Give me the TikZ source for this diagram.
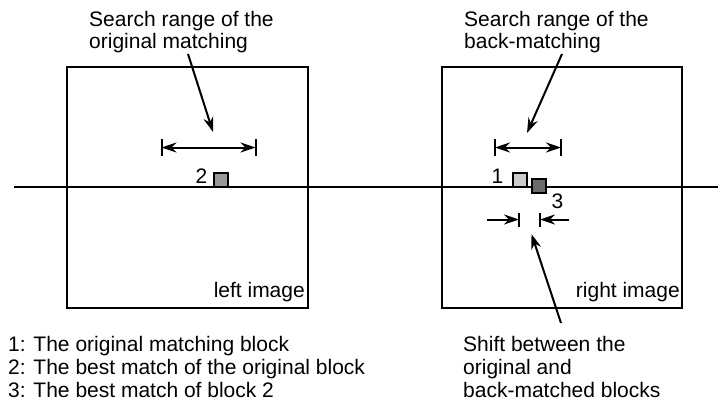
\documentclass[tikz,border=0pt]{standalone}
\usepackage{fontspec}
\setmainfont{Liberation Sans}
\usetikzlibrary{arrows.meta}
\begin{document}
\begin{tikzpicture}[x=1pt,y=-1pt,
  txt/.style={inner sep=0pt,font=\fontsize{21}{23}\selectfont},
  frame/.style={draw=black,line width=2pt},
  lnk/.style={line width=2pt,-{Stealth[length=15pt,width=10pt]}},
  bar/.style={line width=2pt},
  blk/.style={draw=black,line width=1.4pt,minimum size=14pt,inner sep=0pt}]
\useasboundingbox (0,0) rectangle (723,405);
% image frames
\draw[frame] (67,67) rectangle (307.5,307.5);
\draw[frame] (442,67) rectangle (682,307.5);
% epipolar line
\coordinate (la) at (14,187);
\coordinate (lb) at (718,187);
\draw[line width=2pt] (la) -- (lb);
% blocks
\node[blk,fill=black!40] (b2) at (221,180) {};
\node[blk,fill=black!20] (b1) at (520,180) {};
\node[blk,fill=black!58] (b3) at (539,186) {};
\node[txt,anchor=base east] (l2) at (207.5,183) {2};
\node[txt,anchor=base east] (l1) at (503.5,183) {1};
\node[txt,anchor=base west] (l3) at (551.5,208) {3};
% search range left
\coordinate (sl1) at (161.5,147.5);
\coordinate (sl2) at (255.5,147.5);
\draw[lnk,{Stealth[length=15pt,width=10pt]}-{Stealth[length=15pt,width=10pt]}] (sl1) -- (sl2);
\draw[bar] ([yshift=-8.5]sl1) -- ([yshift=8.5]sl1);
\draw[bar] ([yshift=-8.5]sl2) -- ([yshift=8.5]sl2);
% search range right
\coordinate (sr1) at (495,147.5);
\coordinate (sr2) at (561,147.5);
\draw[lnk,{Stealth[length=15pt,width=10pt]}-{Stealth[length=15pt,width=10pt]}] (sr1) -- (sr2);
\draw[bar] ([yshift=-8.5]sr1) -- ([yshift=8.5]sr1);
\draw[bar] ([yshift=-8.5]sr2) -- ([yshift=8.5]sr2);
% shift arrows
\coordinate (s1a) at (487,219.5);
\coordinate (s1b) at (519,219.5);
\coordinate (s2a) at (569,219.5);
\coordinate (s2b) at (540,219.5);
\draw[lnk] (s1a) -- (s1b);
\draw[lnk] (s2a) -- (s2b);
\draw[bar] ([yshift=-7]s1b) -- ([yshift=7]s1b);
\draw[bar] ([yshift=-7]s2b) -- ([yshift=7]s2b);
% texts
\node[txt,anchor=base west] (t1a) at (89,26) {Search range of the};
\node[txt,anchor=base west] (t1b) at (89,48) {original matching};
\node[txt,anchor=base west] (t2a) at (464,26) {Search range of the};
\node[txt,anchor=base west] (t2b) at (464,48) {back-matching};
\node[txt,anchor=base east] (li) at (305,297) {left image};
\node[txt,anchor=base east] (ri) at (680,297) {right image};
\node[txt,anchor=base west] (k1) at (8,351) {1: The original matching block};
\node[txt,anchor=base west] (k2) at (8,374) {2: The best match of the original block};
\node[txt,anchor=base west] (k3) at (8,397) {3: The best match of block 2};
\node[txt,anchor=base west] (s1) at (463,351) {Shift between the};
\node[txt,anchor=base west] (s2) at (463,374) {original and};
\node[txt,anchor=base west] (s3) at (463,397) {back-matched blocks};
% pointer arrows
\coordinate (p1a) at (188,54);
\coordinate (p1b) at (213,132);
\coordinate (p2a) at (562,54);
\coordinate (p2b) at (527,133);
\coordinate (p3a) at (561,323);
\coordinate (p3b) at (531.5,234);
\draw[lnk] (p1a) -- (p1b);
\draw[lnk] (p2a) -- (p2b);
\draw[lnk] (p3a) -- (p3b);
\end{tikzpicture}
\end{document}
